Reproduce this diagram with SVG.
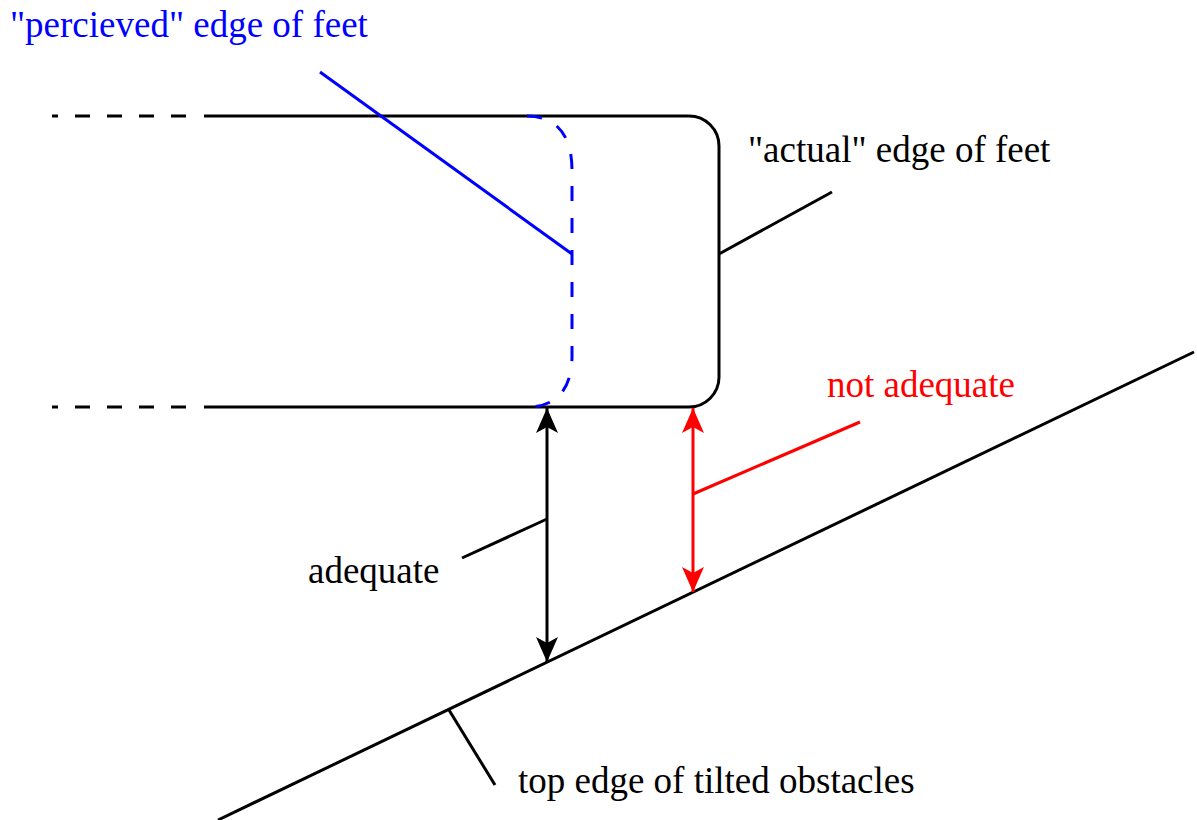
<svg xmlns="http://www.w3.org/2000/svg" width="1197" height="820" viewBox="0 0 1197 820">
<style>
.t{font-family:"Liberation Serif","Times New Roman",serif;font-size:37px}
.k{stroke:#000;stroke-width:3;fill:none}
.r{stroke:#ff0000;stroke-width:3;fill:none}
.b{stroke:#0000ff;stroke-width:3;fill:none}
.dash{stroke-dasharray:15 17}
</style>
<defs>
<marker id="ak" viewBox="-26 -12 27 24" refX="0" refY="0" markerWidth="27" markerHeight="24" markerUnits="userSpaceOnUse" orient="auto-start-reverse">
<path d="M0,0 L-25,-11 L-19,0 L-25,11 Z" fill="#000"/>
</marker>
<marker id="ar" viewBox="-26 -12 27 24" refX="0" refY="0" markerWidth="27" markerHeight="24" markerUnits="userSpaceOnUse" orient="auto-start-reverse">
<path d="M0,0 L-25,-11 L-19,0 L-25,11 Z" fill="#ff0000"/>
</marker>
</defs>
<rect width="1197" height="820" fill="#fff"/>
<g id="feet">
<path class="k" d="M204,116 L689,116 A30,30 0 0 1 719,146 L719,377 A30,30 0 0 1 689,407 L204,407"/>
<path class="k dash" d="M186,116 L52,116 M186,407 L52,407"/>
</g>
<g id="perceived-edge">
<path class="b" d="M527,116 C560,116 572,140 572,170 L572,356 C572,385 560,407 527,407" stroke-dasharray="15 17"/>
</g>
<g id="obstacle">
<path class="k" d="M218,820 L1194,352"/>
</g>
<g id="connectors">
<path class="b" d="M320,72 L572,254"/>
<path class="k" d="M719,254 L832,192"/>
<path class="k" d="M547,408 L547,662" marker-start="url(#ak)" marker-end="url(#ak)"/>
<path class="r" d="M693,408 L693,592" marker-start="url(#ar)" marker-end="url(#ar)"/>
<path class="k" d="M462,558 L547,519"/>
<path class="r" d="M693,494 L860,422"/>
<path class="k" d="M449,710 L495,785"/>
</g>
<g id="labels">
<text class="t" x="10" y="37" fill="#0000ff">"percieved" edge of feet</text>
<text class="t" x="748" y="162" fill="#000">"actual" edge of feet</text>
<text class="t" x="827" y="397" fill="#ff0000">not adequate</text>
<text class="t" x="308" y="583" fill="#000">adequate</text>
<text class="t" x="518" y="793" fill="#000">top edge of tilted obstacles</text>
</g>
</svg>
